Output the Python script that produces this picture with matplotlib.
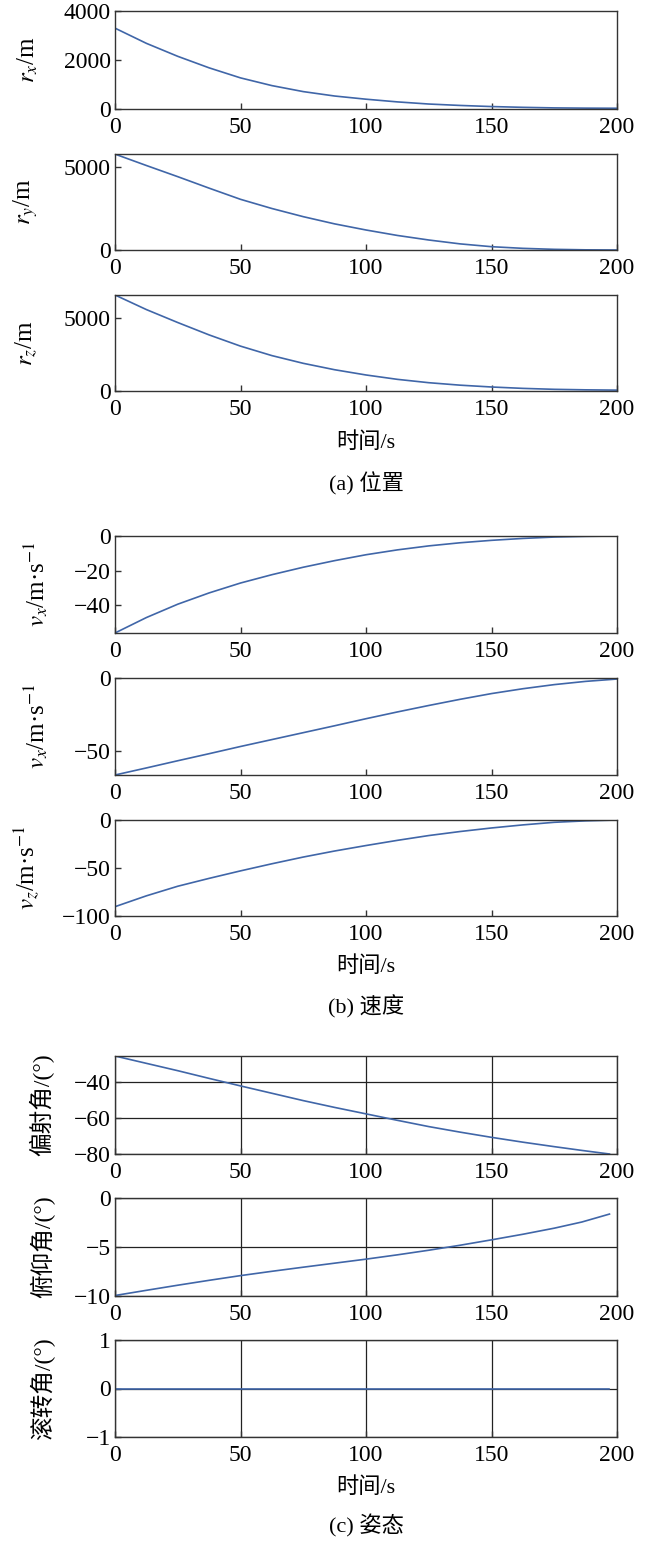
import matplotlib
matplotlib.use('Agg')
import matplotlib.pyplot as plt

plt.rcParams['font.family'] = ['Liberation Serif', 'Noto Sans CJK SC']
plt.rcParams['mathtext.fontset'] = 'stix'
plt.rcParams['font.size'] = 17
plt.rcParams['axes.unicode_minus'] = True

# time samples (s)
t = [0, 12.5, 25, 37.5, 50, 62.5, 75, 87.5, 100, 112.5, 125, 137.5, 150, 162.5, 175, 187.5, 200]
t_att = [0, 12.5, 25, 37.5, 50, 62.5, 75, 87.5, 100, 112.5, 125, 137.5, 150, 162.5, 175, 186, 197]

# position (m)
rx = [3300, 2680, 2150, 1680, 1270, 955, 710, 530, 400, 290, 203, 145, 100, 68, 45, 35, 30]
ry = [5800, 5110, 4435, 3740, 3065, 2510, 2016, 1580, 1210, 880, 605, 370, 200, 100, 40, 10, 0]
rz = [6590, 5590, 4700, 3850, 3080, 2430, 1900, 1460, 1100, 800, 570, 400, 275, 180, 115, 80, 60]

# velocity (m/s)
vx = [-55.9, -47.0, -39.3, -32.8, -27.1, -22.3, -18.0, -14.2, -10.8, -8.0, -5.7, -3.9, -2.5,
      -1.4, -0.6, -0.2, 0]
vy = [-66.0, -61.2, -56.3, -51.5, -46.6, -41.9, -37.2, -32.5, -27.7, -23.1, -18.7, -14.5, -10.6,
      -7.3, -4.5, -2.3, -0.7]
vz = [-90.3, -79.0, -69.0, -60.8, -53.0, -45.6, -38.6, -32.3, -26.6, -21.2, -16.2, -12.0, -8.3,
      -5.1, -2.4, -0.9, 0]

# attitude (deg)
yaw = [-25.3, -29.4, -33.5, -37.8, -42.0, -46.1, -50.2, -54.0, -57.6, -61.2, -64.7, -67.8, -70.7,
       -73.4, -75.9, -78.0, -80.0]
pitch = [-9.95, -9.42, -8.9, -8.4, -7.92, -7.48, -7.06, -6.65, -6.24, -5.8, -5.33, -4.82, -4.27,
         -3.7, -3.08, -2.45, -1.64]
roll = [0] * 17

xticks = [0, 50, 100, 150, 200]
line_color = '#4066a8'

W, H = 650, 1541
fig = plt.figure(figsize=(W / 100, H / 100), dpi=100)

left, right = 115, 617


def make_ax(top, bottom):
    ax = fig.add_axes([left / W, 1 - bottom / H, (right - left) / W, (bottom - top) / H])
    for s in ax.spines.values():
        s.set_color('#333333')
        s.set_linewidth(1.0)
    ax.tick_params(direction='in', length=4, width=1, color='#333333',
                   labelsize=17, top=False, right=False)
    ax.tick_params(axis='x', pad=6)
    ax.tick_params(axis='y', pad=3)
    ax.set_xlim(0, 200)
    ax.set_xticks(xticks)
    return ax


panels = [
    # top, bottom, x, y, ylim, yticks, label, label x, grid
    (11, 109, t, rx, (0, 4000), [0, 2000, 4000], r'$r_x$/m', -0.15, False),
    (154, 250, t, ry, (0, 5806), [0, 5000], r'$r_y$/m', -0.15, False),
    (295, 391, t, rz, (0, 6590), [0, 5000], r'$r_z$/m', -0.15, False),
    (536, 633, t, vx, (-55.9, 0), [-40, -20, 0], r'$v_x$/m·s$^{-1}$', -0.13, False),
    (678, 775, t, vy, (-66.0, 0), [-50, 0], r'$v_x$/m·s$^{-1}$', -0.13, False),
    (820, 916, t, vz, (-100, 0), [-100, -50, 0], r'$v_z$/m·s$^{-1}$', -0.145, False),
    (1056, 1154, t_att, yaw, (-80, -25.3), [-80, -60, -40], '偏射角/(°)', -0.12, True),
    (1198, 1296, t_att, pitch, (-10, 0), [-10, -5, 0], '俯仰角/(°)', -0.12, True),
    (1340, 1437, t_att, roll, (-1, 1), [-1, 0, 1], '滚转角/(°)', -0.12, True),
]

for top, bottom, x, y, ylim, yt, lab, lx, grid in panels:
    ax = make_ax(top, bottom)
    if grid:
        ax.grid(True, color='#222222', linewidth=0.9)
        ax.set_axisbelow(True)
    ax.plot(x, y, color=line_color, linewidth=1.2)
    ax.set_ylim(*ylim)
    ax.set_yticks(yt)
    ax.set_ylabel(lab, fontsize=18 if lab.startswith('$') else 17)
    ax.yaxis.set_label_coords(lx, 0.5)

cx = (left + right) / 2 / W
for xl_y, cap_y, cap in [(443, 484, '(a) 位置'), (967, 1007, '(b) 速度'), (1488, 1526, '(c) 姿态')]:
    fig.text(cx, 1 - xl_y / H, '时间/s', ha='center', va='center', fontsize=16)
    fig.text(cx, 1 - cap_y / H, cap, ha='center', va='center', fontsize=16)

fig.savefig('out.png', dpi=100, facecolor='white')
